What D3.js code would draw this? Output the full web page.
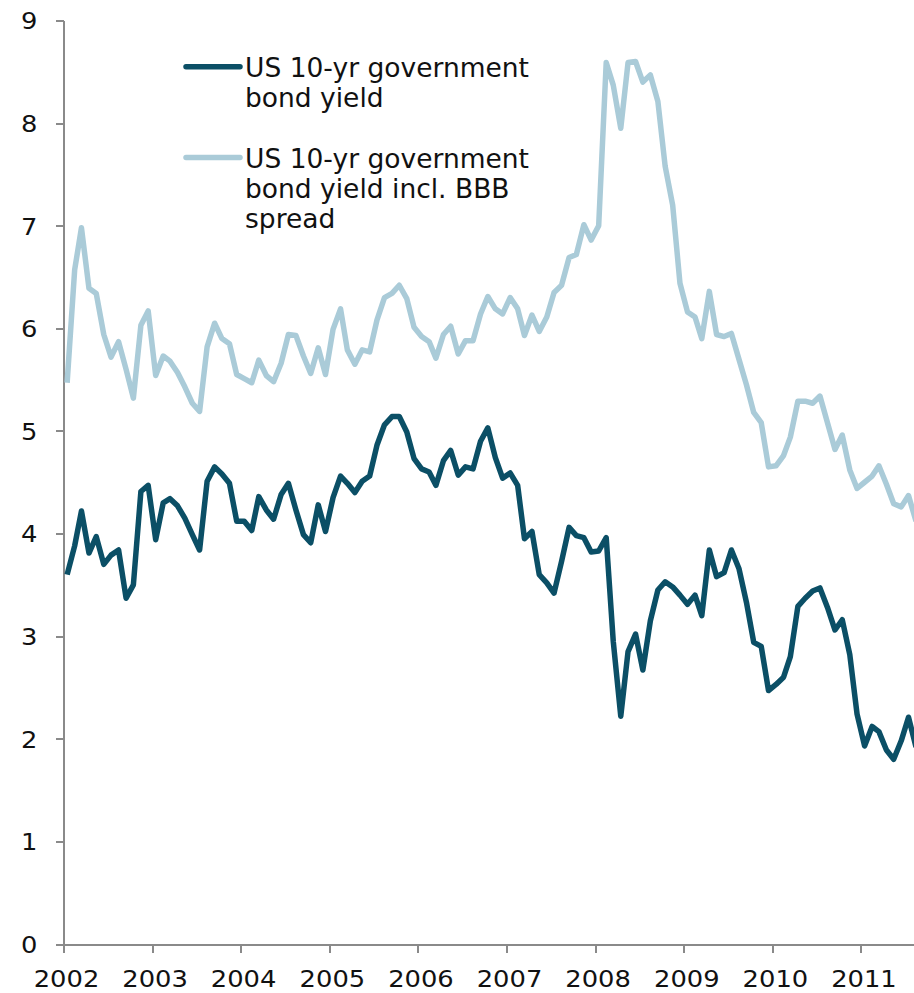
<!DOCTYPE html>
<html>
<head>
<meta charset="utf-8">
<script src="https://cdn.jsdelivr.net/npm/d3@7"></script>
<style>
  html, body { margin: 0; padding: 0; background: #fff; }
  svg { display: block; }
  .axis path, .axis line { stroke: #8a8a8a; stroke-width: 2; shape-rendering: crispEdges; }
  .axis text { font-family: "DejaVu Sans", Verdana, sans-serif; font-size: 23px; fill: #111; }
  .legend text { font-family: "DejaVu Sans", Verdana, sans-serif; font-size: 26.5px; fill: #111; }
</style>
</head>
<body>
<svg id="chart" width="914" height="993"></svg>
<script>
// Monthly observations, Jan 2002 – Aug 2011 (per cent)
const startYear = 2002;
const yearTicks = [2002, 2003, 2004, 2005, 2006, 2007, 2008, 2009, 2010, 2011];
const yTicks = [0, 1, 2, 3, 4, 5, 6, 7, 8, 9];

const seriesNames = [
  ["US 10-yr government", "bond yield"],
  ["US 10-yr government", "bond yield incl. BBB", "spread"]
];

const govYield = [
  3.60, 3.88, 4.22, 3.81, 3.97, 3.70, 3.79, 3.84, 3.37, 3.50, 4.41, 4.47,
  3.94, 4.30, 4.34, 4.27, 4.15, 3.99, 3.84, 4.51, 4.65, 4.58, 4.49, 4.12,
  4.12, 4.03, 4.36, 4.23, 4.14, 4.38, 4.49, 4.23, 3.99, 3.91, 4.28, 4.02,
  4.35, 4.56, 4.49, 4.40, 4.51, 4.56, 4.86, 5.06, 5.14, 5.14, 4.99, 4.73,
  4.63, 4.60, 4.47, 4.71, 4.81, 4.57, 4.65, 4.63, 4.90, 5.03, 4.74, 4.54,
  4.59, 4.47, 3.95, 4.02, 3.60, 3.52, 3.42, 3.73, 4.06, 3.98, 3.96, 3.82,
  3.83, 3.96, 2.95, 2.22, 2.85, 3.02, 2.67, 3.15, 3.45, 3.53, 3.48, 3.40,
  3.31, 3.40, 3.20, 3.84, 3.58, 3.62, 3.84, 3.66, 3.33, 2.94, 2.90, 2.47,
  2.53, 2.60, 2.80, 3.29, 3.37, 3.44, 3.47, 3.28, 3.06, 3.16, 2.82, 2.24,
  1.93, 2.12, 2.07, 1.89, 1.80, 1.98, 2.21, 1.92
];

const bbbYield = [
  5.47, 6.57, 6.98, 6.39, 6.34, 5.94, 5.72, 5.87, 5.60, 5.32, 6.03, 6.17,
  5.54, 5.73, 5.68, 5.57, 5.43, 5.27, 5.19, 5.82, 6.05, 5.90, 5.85, 5.55,
  5.51, 5.47, 5.69, 5.54, 5.48, 5.66, 5.94, 5.93, 5.73, 5.56, 5.81, 5.55,
  5.99, 6.19, 5.79, 5.65, 5.79, 5.77, 6.08, 6.30, 6.34, 6.42, 6.29, 6.01,
  5.92, 5.87, 5.71, 5.94, 6.02, 5.75, 5.88, 5.88, 6.14, 6.31, 6.19, 6.14,
  6.30, 6.19, 5.93, 6.13, 5.97, 6.11, 6.35, 6.42, 6.69, 6.72, 7.01, 6.86,
  7.00, 8.59, 8.37, 7.95, 8.59, 8.60, 8.40, 8.47, 8.21, 7.58, 7.20, 6.44,
  6.16, 6.11, 5.90, 6.36, 5.94, 5.92, 5.95, 5.70, 5.45, 5.18, 5.08, 4.65,
  4.66, 4.76, 4.94, 5.29, 5.29, 5.27, 5.34, 5.08, 4.82, 4.96, 4.62, 4.44,
  4.50, 4.56, 4.66, 4.48, 4.29, 4.26, 4.37, 4.12
];

const colors = ["#0b4f66", "#aacbd8"];

// Each observation is placed mid-month
const months = govYield.map((_, i) => new Date(startYear, i, 16));

const svg = d3.select("#chart");

const x = d3.scaleTime()
  .domain([new Date(2002, 0, 1), new Date(2012, 0, 1)])
  .range([63.5, 949.5]);

const y = d3.scaleLinear()
  .domain([0, 9])
  .range([944, 20.5]);

// Tick labels are set slightly wide
function widen(sel) {
  sel.each(function () {
    const w = this.getComputedTextLength();
    d3.select(this)
      .attr("textLength", (w * 1.12).toFixed(1))
      .attr("lengthAdjust", "spacingAndGlyphs");
  });
}

// Axes
svg.append("g")
  .attr("class", "axis")
  .attr("transform", "translate(63.5,0)")
  .call(d3.axisLeft(y).tickValues(yTicks).tickSize(8).tickSizeOuter(0).tickPadding(18)
    .tickFormat(d3.format("d")))
  .call(g => g.selectAll("text").attr("dy", "0.36em").call(widen));

svg.append("g")
  .attr("class", "axis")
  .attr("transform", "translate(0,944)")
  .call(d3.axisBottom(x)
    .tickValues(yearTicks.map(yr => new Date(yr, 0, 1)))
    .tickSize(9).tickSizeOuter(0).tickPadding(18)
    .tickFormat(d3.timeFormat("%Y")))
  .call(g => g.selectAll("text").attr("dx", 2.5).call(widen));

// Series lines
const line = d3.line()
  .x((d, i) => x(months[i]))
  .y(d => y(d))
  .curve(d3.curveLinear);

[bbbYield, govYield].forEach((vals, k) => {
  svg.append("path")
    .datum(vals)
    .attr("fill", "none")
    .attr("stroke", colors[1 - k])
    .attr("stroke-width", 5.5)
    .attr("stroke-linejoin", "round")
    .attr("stroke-linecap", "butt")
    .attr("d", line);
});

// Legend
const legend = svg.append("g").attr("class", "legend");
const legendTop = [66.7, 157.5];
seriesNames.forEach((lines, k) => {
  legend.append("line")
    .attr("x1", 186).attr("x2", 240)
    .attr("y1", legendTop[k]).attr("y2", legendTop[k])
    .attr("stroke", colors[k])
    .attr("stroke-width", 5.5)
    .attr("stroke-linecap", "round");
  const t = legend.append("text")
    .attr("x", 245)
    .attr("y", legendTop[k] + 10);
  lines.forEach((s, j) => {
    t.append("tspan")
      .attr("x", 245)
      .attr("dy", j === 0 ? 0 : 30)
      .text(s);
  });
});
</script>
</body>
</html>
